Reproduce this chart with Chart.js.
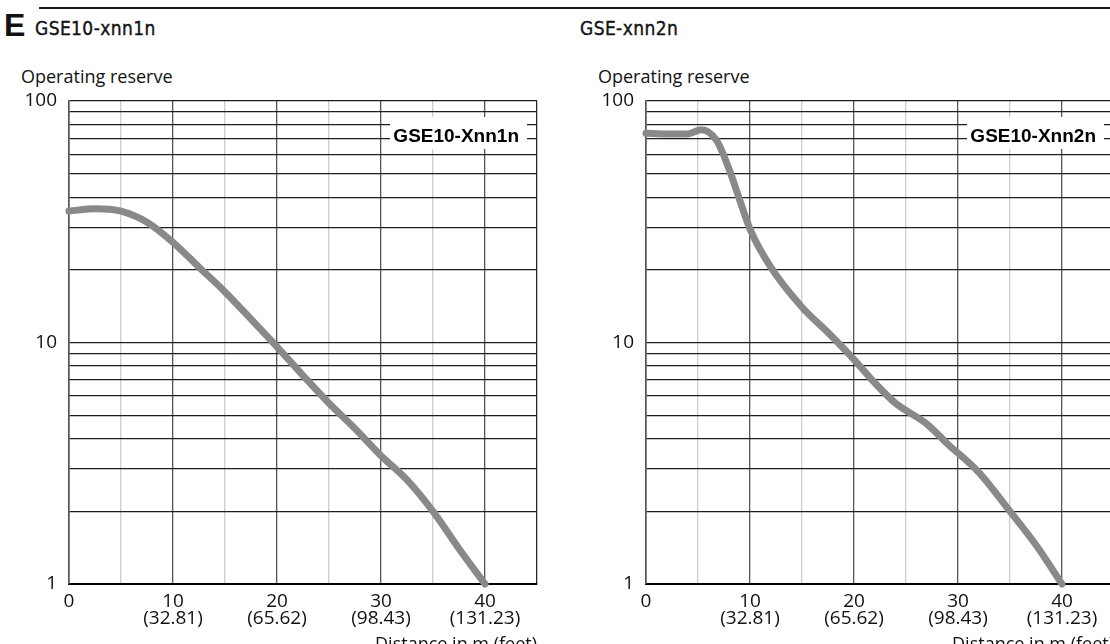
<!DOCTYPE html>
<html lang="en">
<head>
<meta charset="UTF-8">
<title>Operating reserve GSE10</title>
<script src="https://cdn.jsdelivr.net/npm/chart.js@4"></script>
<style>
  html, body { margin: 0; padding: 0; background: #fff; }
  body { width: 1110px; height: 644px; overflow: hidden; position: relative; font-family: 'Open Sans', sans-serif; color: #111; }
  canvas { position: absolute; top: 0; }
  .rule { position: absolute; left: 39px; right: 0; top: 7px; height: 2px; background: #1a1a1a; }
  .big { position: absolute; left: 4px; top: 9px; font: bold 32px/32px 'Liberation Sans', Arial, sans-serif; }
  .head { position: absolute; top: 19px; font: 19px/19px 'DejaVu Sans Condensed', 'DejaVu Sans', sans-serif; font-stretch: condensed; letter-spacing: 0.4px; -webkit-text-stroke: 0.35px #111; }
  .ytitle { position: absolute; top: 67px; font-size: 18px; line-height: 18px; }
  .xtitle { position: absolute; top: 634px; font-size: 18px; line-height: 18px; text-align: right; width: 200px; }
</style>
</head>
<body>
<div class="rule"></div>
<div class="big">E</div>
<div class="head" style="left:35px">GSE10-xnn1n</div>
<div class="head" style="left:580px">GSE-xnn2n</div>
<div class="ytitle" style="left:21px">Operating reserve</div>
<div class="ytitle" style="left:598px">Operating reserve</div>

<canvas id="left" width="560" height="644" style="left:0"></canvas>
<canvas id="right" width="580" height="644" style="left:560px"></canvas>

<div class="xtitle" style="left:337px">Distance in m (feet)</div>
<div class="xtitle" style="left:914px">Distance in m (feet)</div>

<script>
// values (distance in m, operating reserve)
const leftDistance = [0, 2.5, 5, 7.5, 10, 12.5, 15, 17.5, 20, 22.5, 25, 27.5, 30, 32.5, 35, 37.5, 40];
const leftReserve = [35, 35.8, 35, 31.5, 26, 20.5, 16.2, 12.5, 9.6, 7.3, 5.6, 4.4, 3.4, 2.7, 2.0, 1.4, 1.0];

const rightDistance = [0, 2, 4, 5.3, 6.8, 8, 9, 10, 12, 15, 17.5, 20, 22, 24, 27, 29, 32, 35, 37.5, 40];
const rightReserve = [73.5, 73, 73, 76, 68.5, 52, 39, 29.5, 20.5, 14, 11, 8.5, 6.8, 5.6, 4.6, 3.8, 2.9, 2.0, 1.45, 1.0];

// axis ticks
const xTickMeters = [0, 10, 20, 30, 40];
const xTickFeet = ['', '(32.81)', '(65.62)', '(98.43)', '(131.23)'];
const yGridValues = [1, 2, 3, 4, 5, 6, 7, 8, 9, 10, 20, 30, 40, 50, 60, 70, 80, 90, 100];
const yLabelValues = [1, 10, 100];

const tickFont = { family: "'Open Sans', sans-serif", size: 19 };

// white tag with the model name, top right of the plot
const curveTag = {
  id: 'curveTag',
  beforeDatasetsDraw(chart, args, opts) {
    const { ctx, chartArea: a } = chart;
    ctx.save();
    ctx.fillStyle = '#fff';
    ctx.fillRect(a.right - 147, a.top + 16, 137, 32);
    ctx.fillStyle = '#000';
    ctx.font = "bold 19px 'Liberation Sans', Arial, sans-serif";
    ctx.textAlign = 'right';
    ctx.textBaseline = 'alphabetic';
    ctx.fillText(opts.text, a.right - 18, a.top + 41);
    ctx.restore();
  }
};

function buildChart(id, dist, reserve, tag, axisWidth, padRight) {
  return new Chart(document.getElementById(id), {
    type: 'line',
    data: {
      datasets: [{
        data: dist.map((d, i) => ({ x: d, y: reserve[i] })),
        borderColor: '#898989',
        borderWidth: 7,
        borderCapStyle: 'round',
        borderJoinStyle: 'round',
        cubicInterpolationMode: 'monotone',
        pointRadius: 0,
        clip: 8
      }]
    },
    options: {
      responsive: false,
      animation: false,
      devicePixelRatio: 1,
      layout: { padding: { top: 101, right: padRight, left: 0, bottom: 0 } },
      plugins: {
        legend: { display: false },
        tooltip: { enabled: false },
        curveTag: { text: tag }
      },
      scales: {
        x: {
          type: 'linear',
          min: 0,
          max: 45,
          afterFit: (s) => { s.height = 60; },
          ticks: {
            stepSize: 5,
            autoSkip: false,
            maxRotation: 0,
            padding: 9,
            color: '#111',
            font: { ...tickFont, lineHeight: 0.9 },
            callback: (v) => {
              const i = xTickMeters.indexOf(v);
              if (i < 0) return '';
              return xTickFeet[i] ? [String(v), xTickFeet[i]] : String(v);
            }
          },
          grid: {
            drawTicks: false,
            lineWidth: 1.3,
            color: (c) => {
              const v = c.tick ? c.tick.value : 0;
              if (v === 45) return '#2a2a2a';
              return v % 10 === 0 ? '#555' : '#cdcdcd';
            }
          },
          border: { color: '#000', width: 2 }
        },
        y: {
          type: 'logarithmic',
          min: 1,
          max: 100,
          afterBuildTicks: (s) => { s.ticks = yGridValues.map((v) => ({ value: v })); },
          afterFit: (s) => { s.width = axisWidth; },
          ticks: {
            autoSkip: false,
            padding: 12,
            color: '#111',
            font: tickFont,
            callback: (v) => (yLabelValues.includes(v) ? String(v) : '')
          },
          grid: { drawTicks: false, color: '#1e1e1e', lineWidth: 1.2 },
          border: { color: '#555', width: 1.6 }
        }
      }
    },
    plugins: [curveTag]
  });
}

buildChart('left', leftDistance, leftReserve, 'GSE10-Xnn1n', 69, 23);
buildChart('right', rightDistance, rightReserve, 'GSE10-Xnn2n', 86, 26);
</script>
</body>
</html>
